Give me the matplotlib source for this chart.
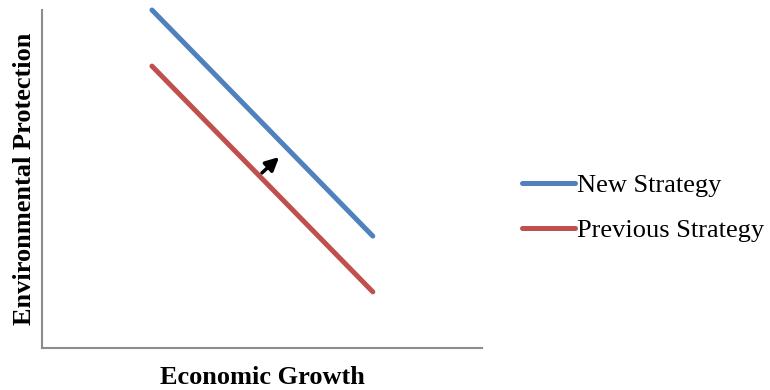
import matplotlib
matplotlib.use("Agg")
import matplotlib.pyplot as plt

# data (arbitrary units)
x_vals = [2.5, 7.52]
new_strategy = [10.0, 3.31]
previous_strategy = [8.34, 1.66]
arrow_tail = (5.0, 5.18)
arrow_head = (5.39, 5.65)

plt.rcParams['font.family'] = ['Liberation Serif', 'DejaVu Serif']

fig = plt.figure(figsize=(7.7, 3.9), dpi=100)
ax = fig.add_axes([0.0545, 0.1077, 0.5714, 0.8667])

ax.plot(x_vals, new_strategy, color='#4F81BD', lw=3.6, solid_capstyle='round',
        label='New Strategy', clip_on=False)
ax.plot(x_vals, previous_strategy, color='#C0504D', lw=3.6, solid_capstyle='round',
        label='Previous Strategy')

ax.annotate('', xy=arrow_head, xytext=arrow_tail,
            arrowprops=dict(arrowstyle='-|>', color='black', lw=2.5,
                            mutation_scale=20, shrinkA=0, shrinkB=0))

ax.set_xlim(0, 10)
ax.set_ylim(0, 10)
ax.set_xticks([])
ax.set_yticks([])
for side in ['top', 'right']:
    ax.spines[side].set_visible(False)
for side in ['left', 'bottom']:
    ax.spines[side].set_color('#8c8c8c')
    ax.spines[side].set_linewidth(1.5)

ax.set_xlabel('Economic Growth', fontsize=19, fontweight='bold', labelpad=13)
ax.set_ylabel('Environmental Protection', fontsize=19, fontweight='bold', labelpad=4)

fig.legend(loc='center left', bbox_to_anchor=(0.678, 0.467), frameon=False,
           fontsize=19, handlelength=2.0, handletextpad=0.1, labelspacing=0.8,
           borderpad=0, borderaxespad=0)

fig.savefig('out.png', dpi=100)
